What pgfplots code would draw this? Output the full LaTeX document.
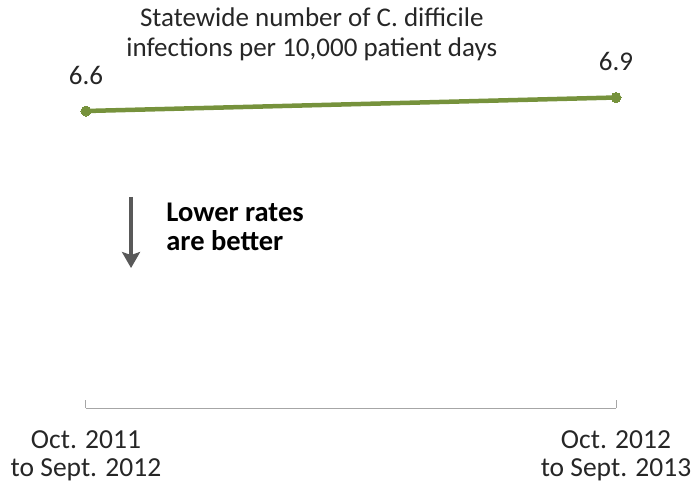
\documentclass[border=0pt]{standalone}
\usepackage{fontspec}
\setmainfont{Carlito}
\usepackage{pgfplots}
\pgfplotsset{compat=1.18}
\usetikzlibrary{arrows.meta}
\definecolor{linegreen}{HTML}{76923C}
\definecolor{txt}{HTML}{262626}
\definecolor{axgray}{HTML}{A6A6A6}
\definecolor{arrgray}{HTML}{595959}
\begin{document}
\begin{tikzpicture}
\path[use as bounding box] (-86pt,-80pt) rectangle (605pt,408pt);
\begin{axis}[
  at={(0,0)}, anchor=south west,
  scale only axis, width=530pt, height=315pt,
  xmin=0, xmax=1, ymin=0, ymax=7,
  clip=false,
  axis x line=bottom, axis y line=none,
  x axis line style={-, axgray, line width=1pt},
  xtick={0,1},
  xticklabels={{Oct. 2011\\to Sept. 2012},{Oct. 2012\\to Sept. 2013}},
  x tick label style={align=center, text=txt, font=\fontsize{27.5}{28}\selectfont, yshift=-19pt},
  tick align=inside,
  major tick length=8pt,
  tick style={axgray, line width=1pt},
  /pgf/number format/assume math mode=true,
  nodes near coords,
  nodes near coords style={font=\fontsize{27}{28}\selectfont, text=txt, anchor=south, yshift=23pt,
    /pgf/number format/fixed, /pgf/number format/precision=1, /pgf/number format/fixed zerofill},
]
\addplot[linegreen, line width=4.5pt, mark=*, mark size=5pt, mark options={fill=linegreen, draw=linegreen, line width=0pt}]
  coordinates {(0,6.6) (1,6.9)};
\node[font=\fontsize{27}{30}\selectfont, text=txt, align=center] at (axis cs:0.426,8.3)
  {Statewide number of C. difficile\\infections per 10,000 patient days};
\draw[arrgray, line width=3.5pt, -{Stealth[length=16pt,width=18pt,inset=3pt]}] (axis cs:0.085,4.69) -- (axis cs:0.085,3.11);
\node[font=\bfseries\fontsize{28.5}{29}\selectfont, text=black, align=left, anchor=west] at (axis cs:0.145,4.02)
  {Lower rates\\are better};
\end{axis}
\end{tikzpicture}
\end{document}
